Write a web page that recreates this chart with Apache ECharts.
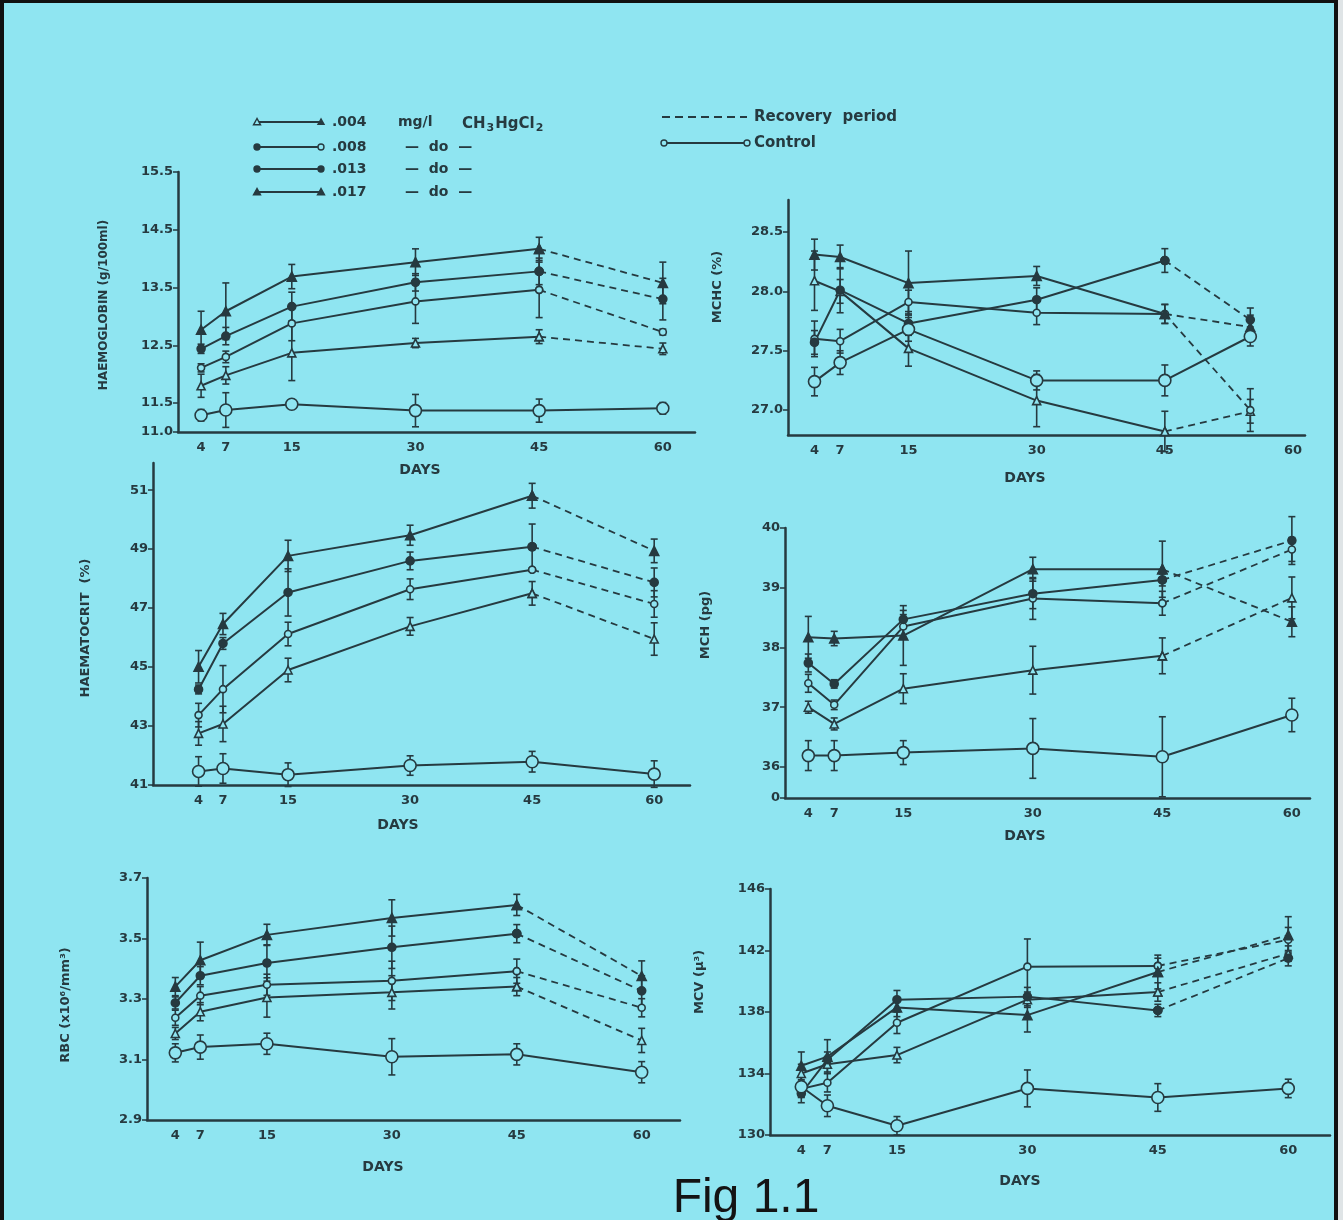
<!DOCTYPE html>
<html>
<head>
<meta charset="utf-8">
<script src="https://cdn.jsdelivr.net/npm/echarts@6/dist/echarts.min.js"></script>
<style>
    html, body { margin: 0; padding: 0; background: #8fe5f1; }
    #chart { width: 1343px; height: 1220px; }
</style>
</head>
<body>
<div id="chart"></div>
<script>
// days on the x axis; the MCHC panel draws its last points short of 60
const days = [4, 7, 15, 30, 45, 60];
const mchcDays = [4, 7, 15, 30, 45, 55];
// rows: .004, .008, .013, .017 mg/l CH3HgCl2, control
const groups = ['.004', '.008', '.013', '.017', 'Control'];

const hbTicks = [11.0, 11.5, 12.5, 13.5, 14.5, 15.5];
const hbMean = [
    [11.80, 11.98, 12.37, 12.54, 12.65, 12.44],
    [12.11, 12.30, 12.88, 13.26, 13.46, 12.73],
    [12.44, 12.66, 13.17, 13.59, 13.78, 13.30],
    [12.77, 13.09, 13.69, 13.94, 14.17, 13.58],
    [11.29, 11.38, 11.48, 11.37, 11.37, 11.41]
];
const hbErr = [
    [0.20, 0.15, 0.48, 0.08, 0.12, 0.10],
    [0.07, 0.10, 0.30, 0.38, 0.48, 0.05],
    [0.08, 0.15, 0.25, 0.15, 0.23, 0.36],
    [0.32, 0.49, 0.21, 0.23, 0.20, 0.36],
    [0.10, 0.30, 0.07, 0.28, 0.20, 0.10]
];

const mchcTicks = [27.0, 27.5, 28.0, 28.5];
const mchcMean = [
    [28.09, 28.00, 27.52, 27.08, 26.82, 26.99],
    [27.60, 27.58, 27.91, 27.82, 27.81, 27.00],
    [27.57, 28.01, 27.73, 27.93, 28.26, 27.76],
    [28.31, 28.29, 28.07, 28.13, 27.81, 27.70],
    [27.24, 27.40, 27.68, 27.25, 27.25, 27.62]
];
const mchcErr = [
    [0.25, 0.10, 0.15, 0.22, 0.17, 0.10],
    [0.15, 0.10, 0.10, 0.10, 0.08, 0.18],
    [0.10, 0.19, 0.10, 0.10, 0.10, 0.10],
    [0.13, 0.10, 0.27, 0.08, 0.08, 0.10],
    [0.12, 0.10, 0.10, 0.08, 0.13, 0.08]
];

const hctTicks = [41, 43, 45, 47, 49, 51];
const hctMean = [
    [42.75, 43.07, 44.90, 46.38, 47.50, 45.95],
    [43.37, 44.25, 46.12, 47.64, 48.30, 47.14],
    [44.24, 45.80, 47.53, 48.60, 49.08, 47.87],
    [45.01, 46.46, 48.77, 49.47, 50.81, 48.94],
    [41.46, 41.56, 41.35, 41.66, 41.79, 41.37]
];
const hctErr = [
    [0.40, 0.60, 0.40, 0.30, 0.40, 0.55],
    [0.40, 0.80, 0.40, 0.35, 0.05, 0.45],
    [0.15, 0.20, 0.80, 0.30, 0.77, 0.49],
    [0.55, 0.36, 0.53, 0.34, 0.42, 0.40],
    [0.50, 0.50, 0.40, 0.33, 0.35, 0.45]
];

// the lowest MCH tick is the broken-axis "0"
const mchTicks = [35.48, 36, 37, 38, 39, 40];
const mchMean = [
    [37.00, 36.72, 37.31, 37.62, 37.86, 38.83],
    [37.40, 37.04, 38.35, 38.82, 38.74, 39.64],
    [37.74, 37.39, 38.47, 38.90, 39.13, 39.79],
    [38.17, 38.15, 38.20, 39.31, 39.31, 38.43],
    [36.19, 36.19, 36.24, 36.31, 36.17, 36.87]
];
const mchErr = [
    [0.10, 0.10, 0.25, 0.40, 0.30, 0.35],
    [0.15, 0.08, 0.20, 0.35, 0.20, 0.20],
    [0.15, 0.07, 0.15, 0.25, 0.10, 0.40],
    [0.35, 0.12, 0.50, 0.20, 0.47, 0.25],
    [0.25, 0.25, 0.20, 0.50, 0.67, 0.28]
];

const rbcTicks = [2.9, 3.1, 3.3, 3.5, 3.7];
const rbcMean = [
    [3.186, 3.258, 3.305, 3.322, 3.341, 3.163],
    [3.238, 3.311, 3.347, 3.360, 3.392, 3.271],
    [3.287, 3.377, 3.419, 3.471, 3.516, 3.327],
    [3.341, 3.428, 3.512, 3.568, 3.611, 3.376],
    [3.122, 3.141, 3.152, 3.109, 3.117, 3.058]
];
const rbcErr = [
    [0.020, 0.030, 0.065, 0.055, 0.030, 0.040],
    [0.025, 0.030, 0.035, 0.065, 0.040, 0.030],
    [0.020, 0.030, 0.060, 0.070, 0.030, 0.050],
    [0.030, 0.060, 0.035, 0.060, 0.035, 0.050],
    [0.030, 0.040, 0.035, 0.060, 0.035, 0.035]
];

const mcvTicks = [130, 134, 138, 142, 146];
const mcvMean = [
    [134.0, 134.6, 135.2, 138.8, 139.3, 141.8],
    [133.0, 133.4, 137.3, 140.95, 141.0, 142.7],
    [132.7, 134.9, 138.8, 139.0, 138.1, 141.5],
    [134.5, 135.1, 138.3, 137.8, 140.6, 143.0],
    [133.14, 131.9, 130.6, 133.03, 132.44, 133.03]
];
const mcvErr = [
    [0.6, 0.5, 0.5, 0.5, 0.6, 0.5],
    [0.5, 0.6, 0.7, 1.8, 0.5, 0.8],
    [0.6, 0.5, 0.6, 0.6, 0.4, 0.5],
    [0.9, 1.1, 0.6, 1.1, 1.1, 1.2],
    [0.7, 0.7, 0.6, 1.2, 0.9, 0.6]
];

const ink = '#263a40';
const bg = '#8fe5f1';
const font = '"DejaVu Sans", sans-serif';

const marks = [
    {symbol: 'triangle', size: 8, fill: bg},
    {symbol: 'circle', size: 7, fill: bg},
    {symbol: 'circle', size: 8, fill: ink},
    {symbol: 'triangle', size: 9, fill: ink},
    {symbol: 'circle', size: 12, fill: bg}
];

const panels = [
    {grid: {left: 178, top: 172, width: 517, height: 260}, x: [1.2, 63.9], y: [11.0, 15.5], ticks: hbTicks, xs: days, mean: hbMean, err: hbErr, fmt: v => v.toFixed(1)},
    {grid: {left: 788, top: 200, width: 517, height: 235}, x: [0.9, 61.4], y: [26.79, 28.77], ticks: mchcTicks, xs: mchcDays, mean: mchcMean, err: mchcErr, fmt: v => v.toFixed(1)},
    {grid: {left: 153, top: 463, width: 537, height: 322}, x: [-1.6, 64.4], y: [41, 51.92], ticks: hctTicks, xs: days, mean: hctMean, err: hctErr, fmt: v => String(v)},
    {grid: {left: 785, top: 528, width: 525, height: 270}, x: [1.3, 62.1], y: [35.48, 40], ticks: mchTicks, xs: days, mean: mchMean, err: mchErr, fmt: v => v < 36 ? '0' : String(v)},
    {grid: {left: 147, top: 878, width: 533, height: 242}, x: [0.6, 64.6], y: [2.9, 3.7], ticks: rbcTicks, xs: days, mean: rbcMean, err: rbcErr, fmt: v => v.toFixed(1)},
    {grid: {left: 770, top: 889, width: 560, height: 246}, x: [0.4, 64.8], y: [130, 146], ticks: mcvTicks, xs: days, mean: mcvMean, err: mcvErr, fmt: v => String(v)}
];

function errorBar(params, api) {
    const x = api.value(0), m = api.value(1), e = api.value(2);
    const hi = api.coord([x, m + e]);
    const lo = api.coord([x, m - e]);
    const w = 3.5;
    const st = {stroke: ink, lineWidth: 1.6};
    return {
        type: 'group',
        children: [
            {type: 'line', shape: {x1: hi[0], y1: hi[1], x2: lo[0], y2: lo[1]}, style: st},
            {type: 'line', shape: {x1: hi[0] - w, y1: hi[1], x2: hi[0] + w, y2: hi[1]}, style: st},
            {type: 'line', shape: {x1: lo[0] - w, y1: lo[1], x2: lo[0] + w, y2: lo[1]}, style: st}
        ]
    };
}

const grids = [], xAxes = [], yAxes = [], series = [];
panels.forEach((p, i) => {
    grids.push(p.grid);
    xAxes.push({
        type: 'value', gridIndex: i, min: p.x[0], max: p.x[1],
        axisLine: {show: true, onZero: false, lineStyle: {color: ink, width: 2.5}},
        axisTick: {show: false},
        splitLine: {show: false},
        axisLabel: {customValues: days, color: ink, fontSize: 13, fontFamily: font, fontWeight: 'bold', margin: 9}
    });
    yAxes.push({
        type: 'value', gridIndex: i, min: p.y[0], max: p.y[1],
        axisLine: {show: true, onZero: false, lineStyle: {color: ink, width: 2.5}},
        axisTick: {show: true, customValues: p.ticks, length: 5, lineStyle: {color: ink, width: 1.5}},
        splitLine: {show: false},
        axisLabel: {customValues: p.ticks, formatter: p.fmt, color: ink, fontSize: 13, fontFamily: font, fontWeight: 'bold', margin: 5}
    });
    p.mean.forEach((vals, g) => {
        const pts = p.xs.map((x, k) => [x, vals[k]]);
        const m = marks[g];
        const base = {
            type: 'line', xAxisIndex: i, yAxisIndex: i, name: groups[g],
            symbol: m.symbol, symbolSize: m.size, showAllSymbol: true,
            itemStyle: {color: m.fill, borderColor: ink, borderWidth: 1.6},
            lineStyle: {color: ink, width: 2}, z: 3, silent: true
        };
        if (g === 4) {
            series.push(Object.assign({}, base, {data: pts}));
        } else {
            series.push(Object.assign({}, base, {data: pts.slice(0, 5)}));
            series.push(Object.assign({}, base, {data: pts.slice(4), lineStyle: {color: ink, width: 1.8, type: [7, 5]}}));
        }
    });
    const bars = [];
    p.mean.forEach((vals, g) => vals.forEach((v, k) => bars.push([p.xs[k], v, p.err[g][k]])));
    series.push({type: 'custom', xAxisIndex: i, yAxisIndex: i, data: bars, encode: {x: 0, y: 1}, renderItem: errorBar, z: 2, silent: true});
});

function txt(x, y, text, size, align) {
    return {
        type: 'text', x: x, y: y, silent: true,
        style: {text: text, fill: ink, font: 'bold ' + size + 'px ' + font, textAlign: align || 'left', textVerticalAlign: 'middle'}
    };
}
function vtxt(x, y, text, size) {
    return {
        type: 'text', x: x, y: y, rotation: Math.PI / 2, silent: true,
        style: {text: text, fill: ink, font: 'bold ' + size + 'px ' + font, textAlign: 'center', textVerticalAlign: 'middle'}
    };
}
function tri(cx, cy, r, filled) {
    return {type: 'polygon', silent: true, shape: {points: [[cx, cy - r], [cx - r, cy + r * 0.8], [cx + r, cy + r * 0.8]]},
        style: {fill: filled ? ink : bg, stroke: ink, lineWidth: 1.4}};
}
function dot(cx, cy, r, filled) {
    return {type: 'circle', silent: true, shape: {cx: cx, cy: cy, r: r}, style: {fill: filled ? ink : bg, stroke: ink, lineWidth: 1.4}};
}
function seg(x1, y, x2, dash) {
    return {type: 'line', silent: true, shape: {x1: x1, y1: y, x2: x2, y2: y}, style: {stroke: ink, lineWidth: 1.8, lineDash: dash || null}};
}

const legendRows = [122, 147, 169, 192];
const graphic = [
    {type: 'rect', silent: true, shape: {x: 2, y: 1, width: 1334, height: 1240}, style: {fill: null, stroke: '#111', lineWidth: 4}},
    {type: 'rect', silent: true, shape: {x: 1338, y: 0, width: 6, height: 1220}, style: {fill: '#dfe4e6'}},
    seg(255, legendRows[0], 323), tri(257, legendRows[0], 3.5, false), tri(321, legendRows[0], 3, true),
    seg(255, legendRows[1], 323), dot(257, legendRows[1], 3, true), dot(321, legendRows[1], 3, false),
    seg(255, legendRows[2], 323), dot(257, legendRows[2], 3, true), dot(321, legendRows[2], 3, true),
    seg(255, legendRows[3], 323), tri(257, legendRows[3], 3.5, true), tri(321, legendRows[3], 3.5, true),
    txt(332, legendRows[0], '.004', 14),
    txt(398, legendRows[0], 'mg/l', 14),
    {
        type: 'text', x: 462, y: legendRows[0] + 2, silent: true,
        style: {
            text: '{a|CH}{b|3}{a|HgCl}{b|2}',
            textVerticalAlign: 'middle',
            rich: {
                a: {font: 'bold 15px ' + font, fill: ink},
                b: {font: 'bold 11px ' + font, fill: ink, padding: [9, 1, 0, 1]}
            }
        }
    },
    txt(332, legendRows[1], '.008', 14), txt(405, legendRows[1], '—  do  —', 14),
    txt(332, legendRows[2], '.013', 14), txt(405, legendRows[2], '—  do  —', 14),
    txt(332, legendRows[3], '.017', 14), txt(405, legendRows[3], '—  do  —', 14),
    seg(662, 117, 747, [8, 5]), txt(754, 117, 'Recovery  period', 15),
    seg(662, 143, 749), dot(664, 143, 3, false), dot(747, 143, 3, false),
    txt(754, 143, 'Control', 15),
    vtxt(104, 305, 'HAEMOGLOBIN (g/100ml)', 12),
    vtxt(718, 287, 'MCHC (%)', 13),
    vtxt(86, 628, 'HAEMATOCRIT  (%)', 13),
    vtxt(706, 625, 'MCH (pg)', 13),
    vtxt(66, 1005, 'RBC (x10⁶/mm³)', 13),
    vtxt(700, 982, 'MCV (μ³)', 13),
    txt(420, 470, 'DAYS', 14, 'center'),
    txt(1025, 478, 'DAYS', 14, 'center'),
    txt(398, 825, 'DAYS', 14, 'center'),
    txt(1025, 836, 'DAYS', 14, 'center'),
    txt(383, 1167, 'DAYS', 14, 'center'),
    txt(1020, 1181, 'DAYS', 14, 'center'),
    {type: 'text', x: 746, y: 1199, silent: true, style: {text: 'Fig 1.1', fill: '#141414', font: '48px "Liberation Sans", Arial, sans-serif', textAlign: 'center', textVerticalAlign: 'middle'}}
];

const myChart = echarts.init(document.getElementById('chart'));
myChart.setOption({
    backgroundColor: bg,
    animation: false,
    grid: grids,
    xAxis: xAxes,
    yAxis: yAxes,
    series: series,
    graphic: graphic
});
</script>
</body>
</html>
